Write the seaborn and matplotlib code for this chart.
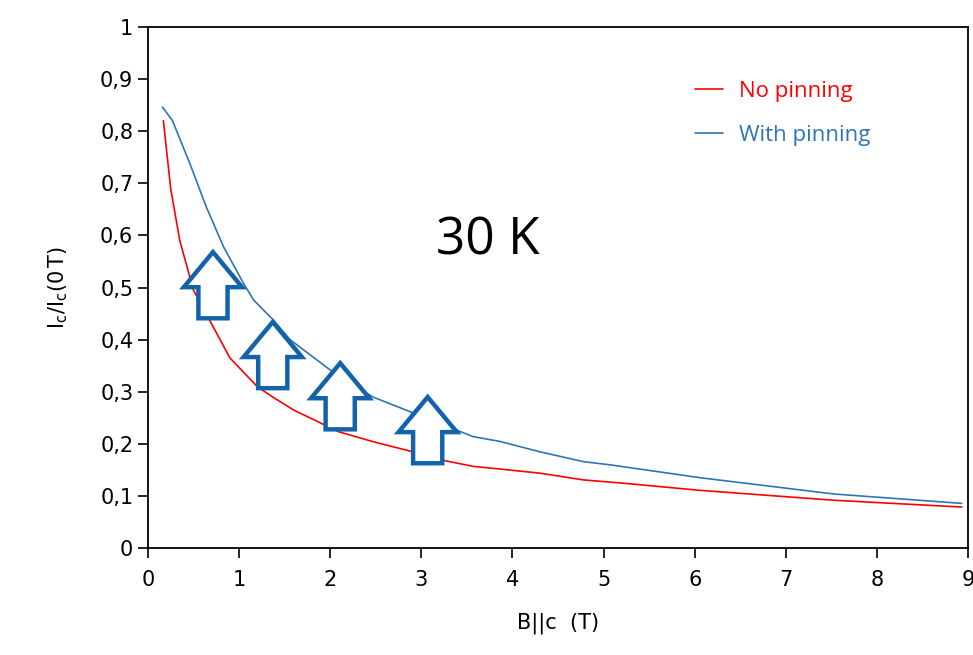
import numpy as np
import pandas as pd
import matplotlib.pyplot as plt
import seaborn as sns
from matplotlib.patches import Polygon

# Field values (T) and normalized critical current
b_no_pin = [0.17, 0.25, 0.35, 0.5, 0.7, 0.9, 1.2, 1.37, 1.6, 2.1, 2.5, 2.84,
            3.2, 3.57, 3.86, 4.3, 4.78, 5.2, 6.06, 7.53, 8.93]
ic_no_pin = [0.82, 0.69, 0.59, 0.495, 0.43, 0.365, 0.31, 0.29, 0.265, 0.223,
             0.203, 0.188, 0.17, 0.157, 0.152, 0.144, 0.131, 0.125, 0.111,
             0.092, 0.079]

b_pin = [0.16, 0.27, 0.46, 0.64, 0.83, 1.05, 1.16, 1.375, 1.56, 2.0, 2.47,
         3.02, 3.57, 3.86, 3.97, 4.3, 4.78, 5.07, 6.07, 7.53, 8.93]
ic_pin = [0.846, 0.82, 0.738, 0.655, 0.578, 0.508, 0.476, 0.438, 0.40, 0.342,
          0.29, 0.252, 0.214, 0.205, 0.2, 0.185, 0.166, 0.16, 0.135, 0.104,
          0.086]

labels = ['No pinning', 'With pinning']
colors = ['#FF0000', '#2E75B6']

# hollow arrows: x centre, tip y
arrow_x = [0.714, 1.37, 2.11, 3.07]
arrow_tip = [0.568, 0.434, 0.355, 0.29]

df = pd.concat([
    pd.DataFrame({'B': b_no_pin, 'Ic': ic_no_pin, 'series': labels[0]}),
    pd.DataFrame({'B': b_pin, 'Ic': ic_pin, 'series': labels[1]}),
])

sns.set_style('white')
plt.rcParams['font.family'] = ['DejaVu Sans']
plt.rcParams['text.color'] = 'black'
plt.rcParams['axes.labelcolor'] = 'black'

fig = plt.figure(figsize=(9.73, 6.55), dpi=100)
ax = fig.add_axes([0.152, 0.163, 0.843, 0.796])

sns.lineplot(data=df, x='B', y='Ic', hue='series', palette=colors,
             linewidth=1.2, sort=False, ax=ax)

# block arrows in data coords
aw, ah = 0.64, 0.127
for cx, ty in zip(arrow_x, arrow_tip):
    hb = ty - ah * 0.53
    bot = ty - ah
    sw = aw * 0.5
    verts = [(cx, ty), (cx + aw / 2, hb), (cx + sw / 2, hb), (cx + sw / 2, bot),
             (cx - sw / 2, bot), (cx - sw / 2, hb), (cx - aw / 2, hb)]
    ax.add_patch(Polygon(verts, closed=True, facecolor='white',
                         edgecolor='#1262AC', linewidth=3.2, zorder=5,
                         joinstyle='miter'))

ax.set_xlim(0, 9)
ax.set_ylim(0, 1)
ax.set_xticks(range(0, 10))
ax.set_yticks(np.arange(0, 1.01, 0.1))
ax.set_yticklabels(['0'] + [f'0,{i}' for i in range(1, 10)] + ['1'])
ax.tick_params(axis='both', direction='out', length=7, width=1.2,
               labelsize=15, colors='black', bottom=True, left=True)
ax.tick_params(axis='x', pad=9)
for s in ax.spines.values():
    s.set_color('black')
    s.set_linewidth(1.3)

ax.set_xlabel('B||c  (T)', fontsize=15, labelpad=16)
ax.set_ylabel(r'$\mathregular{I_c/I_c(0\,T)}$', fontsize=15, labelpad=22)

ax.text(3.73, 0.59, '30 K', fontsize=37, family='Open Sans', color='black',
        ha='center', va='center')

leg = ax.legend(loc='upper left', bbox_to_anchor=(0.643, 0.935), frameon=False,
                handlelength=1.25, handletextpad=0.7,
                labelspacing=1.05, labelcolor='linecolor',
                prop={'family': 'Open Sans', 'size': 16})

fig.savefig('out.png', dpi=100)
